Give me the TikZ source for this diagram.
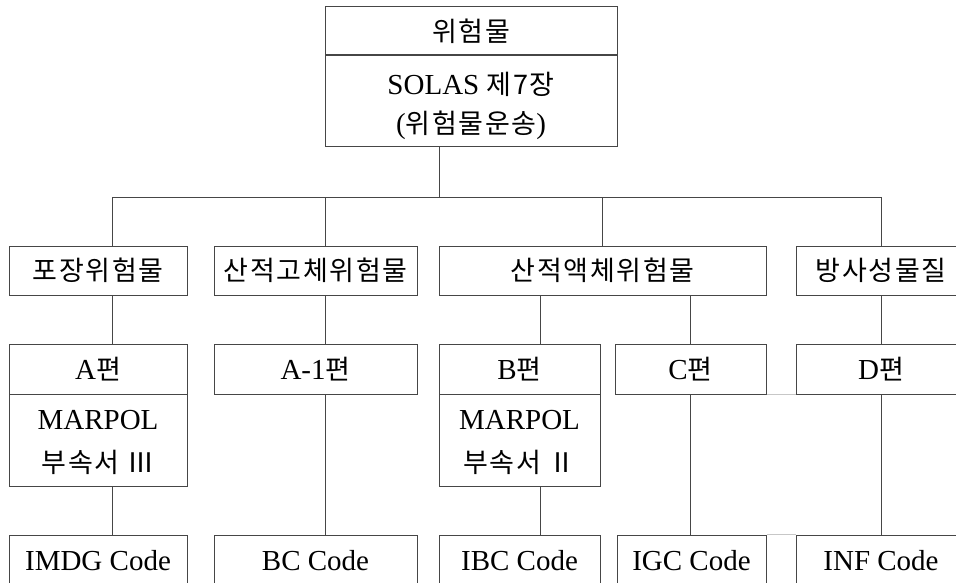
\documentclass[tikz,border=0pt]{standalone}
\usepackage{fontspec}
\setmainfont{Liberation Serif}
\newfontfamily\krfont[LetterSpace=6]{Noto Sans CJK KR}
\newcommand{\kr}[1]{{\fontsize{27}{36}\krfont #1}}
\definecolor{linegray}{RGB}{70,70,70}
\tikzset{every picture/.style={line width=1pt}}
\tikzset{
  box/.style={draw=linegray, inner sep=0pt, align=center, font=\fontsize{29}{40}\selectfont},
  txt/.style={inner sep=0pt, font=\fontsize{29}{40}\selectfont},
  conn/.style={draw=linegray},
  faint/.style={draw=black!22}
}
\begin{document}
\begin{tikzpicture}[x=1pt,y=1pt,yscale=-1,xscale=1]
                  \useasboundingbox (0,0) rectangle (956,583);

                  % Top box
                  \node [box, minimum width=292pt, minimum height=49pt] (topHead) at (471,31) {\kr{위험물}};
                  \node [box, minimum width=292pt, minimum height=92pt] (topBody) at (471,101) {};
                  % Text Node
                  \node [txt] (topLineA) at (471,84) {SOLAS \kr{제7장}};
                  % Text Node
                  \node [txt] (topLineB) at (471,125) {(\kr{위험물운송})};

                  % Level 2 boxes
                  \node [box, minimum width=178pt, minimum height=49pt] (pkg) at (98,270.5) {\kr{포장위험물}};
                  \node [box, minimum width=203pt, minimum height=49pt] (solid) at (315.5,270.5) {\kr{산적고체위험물}};
                  \node [box, minimum width=327pt, minimum height=49pt] (liquid) at (602.5,270.5) {\kr{산적액체위험물}};
                  \node [box, minimum width=170pt, minimum height=49pt] (radio) at (881,270.5) {\kr{방사성물질}};

                  % Level 3 boxes
                  \node [box, minimum width=178pt, minimum height=50pt] (partA) at (98,369) {A\kr{편}};
                  \node [box, minimum width=178pt, minimum height=92pt] (partAbody) at (98,440) {};
                  \node [box, minimum width=203pt, minimum height=50pt] (partAone) at (315.5,369) {A-1\kr{편}};
                  \node [box, minimum width=161pt, minimum height=50pt] (partB) at (519.5,369) {B\kr{편}};
                  \node [box, minimum width=161pt, minimum height=92pt] (partBbody) at (519.5,440) {};
                  \node [box, minimum width=151pt, minimum height=50pt] (partC) at (690.5,369) {C\kr{편}};
                  \node [box, minimum width=170pt, minimum height=50pt] (partD) at (881,369) {D\kr{편}};
                  % Text Node
                  \node [txt] (marpolA) at (98,420) {MARPOL};
                  \node [txt] (annexA) at (98,462) {\kr{부속서 Ⅲ}};
                  % Text Node
                  \node [txt] (marpolB) at (519.5,420) {MARPOL};
                  \node [txt] (annexB) at (519.5,462) {\kr{부속서 Ⅱ}};

                  % Level 4 boxes
                  \node [box, minimum width=178pt, minimum height=51pt] (imdg) at (98,560.5) {IMDG Code};
                  \node [box, minimum width=203pt, minimum height=51pt] (bc) at (315.5,560.5) {BC Code};
                  \node [box, minimum width=161pt, minimum height=51pt] (ibc) at (519.5,560.5) {IBC Code};
                  \node [box, minimum width=149pt, minimum height=51pt] (igc) at (691.5,560.5) {IGC Code};
                  \node [box, minimum width=170pt, minimum height=51pt] (inf) at (881,560.5) {INF Code};

                  % Junctions on the bus
                  \coordinate (jTop) at (439,197);
                  \coordinate (jPkg) at (112,197);
                  \coordinate (jSolid) at (325,197);
                  \coordinate (jLiquid) at (602,197);
                  \coordinate (jRadio) at (881,197);
                  \coordinate (xB) at (540,0);
                  \coordinate (xC) at (690,0);

                  %Straight Lines
                  \draw [conn] (topBody.south -| jTop) -- (jTop);
                  \draw [conn] (jPkg) -- (jRadio);
                  \draw [conn] (jPkg) -- (pkg.north -| jPkg);
                  \draw [conn] (jSolid) -- (solid.north -| jSolid);
                  \draw [conn] (jLiquid) -- (liquid.north -| jLiquid);
                  \draw [conn] (jRadio) -- (radio.north -| jRadio);
                  %Straight Lines
                  \draw [conn] (pkg.south -| jPkg) -- (partA.north -| jPkg);
                  \draw [conn] (solid.south -| jSolid) -- (partAone.north -| jSolid);
                  \draw [conn] (liquid.south -| xB) -- (partB.north -| xB);
                  \draw [conn] (liquid.south -| xC) -- (partC.north -| xC);
                  \draw [conn] (radio.south -| jRadio) -- (partD.north -| jRadio);
                  %Straight Lines
                  \draw [conn] (partAbody.south -| jPkg) -- (imdg.north -| jPkg);
                  \draw [conn] (partAone.south -| jSolid) -- (bc.north -| jSolid);
                  \draw [conn] (partBbody.south -| xB) -- (ibc.north -| xB);
                  \draw [conn] (partC.south -| xC) -- (igc.north -| xC);
                  \draw [conn] (partD.south -| jRadio) -- (inf.north -| jRadio);
                  %Straight Lines
                  \draw [faint] (partC.south east) -- (partD.south west);
                  \draw [faint] (igc.north east) -- (inf.north west);

\end{tikzpicture}
\end{document}
